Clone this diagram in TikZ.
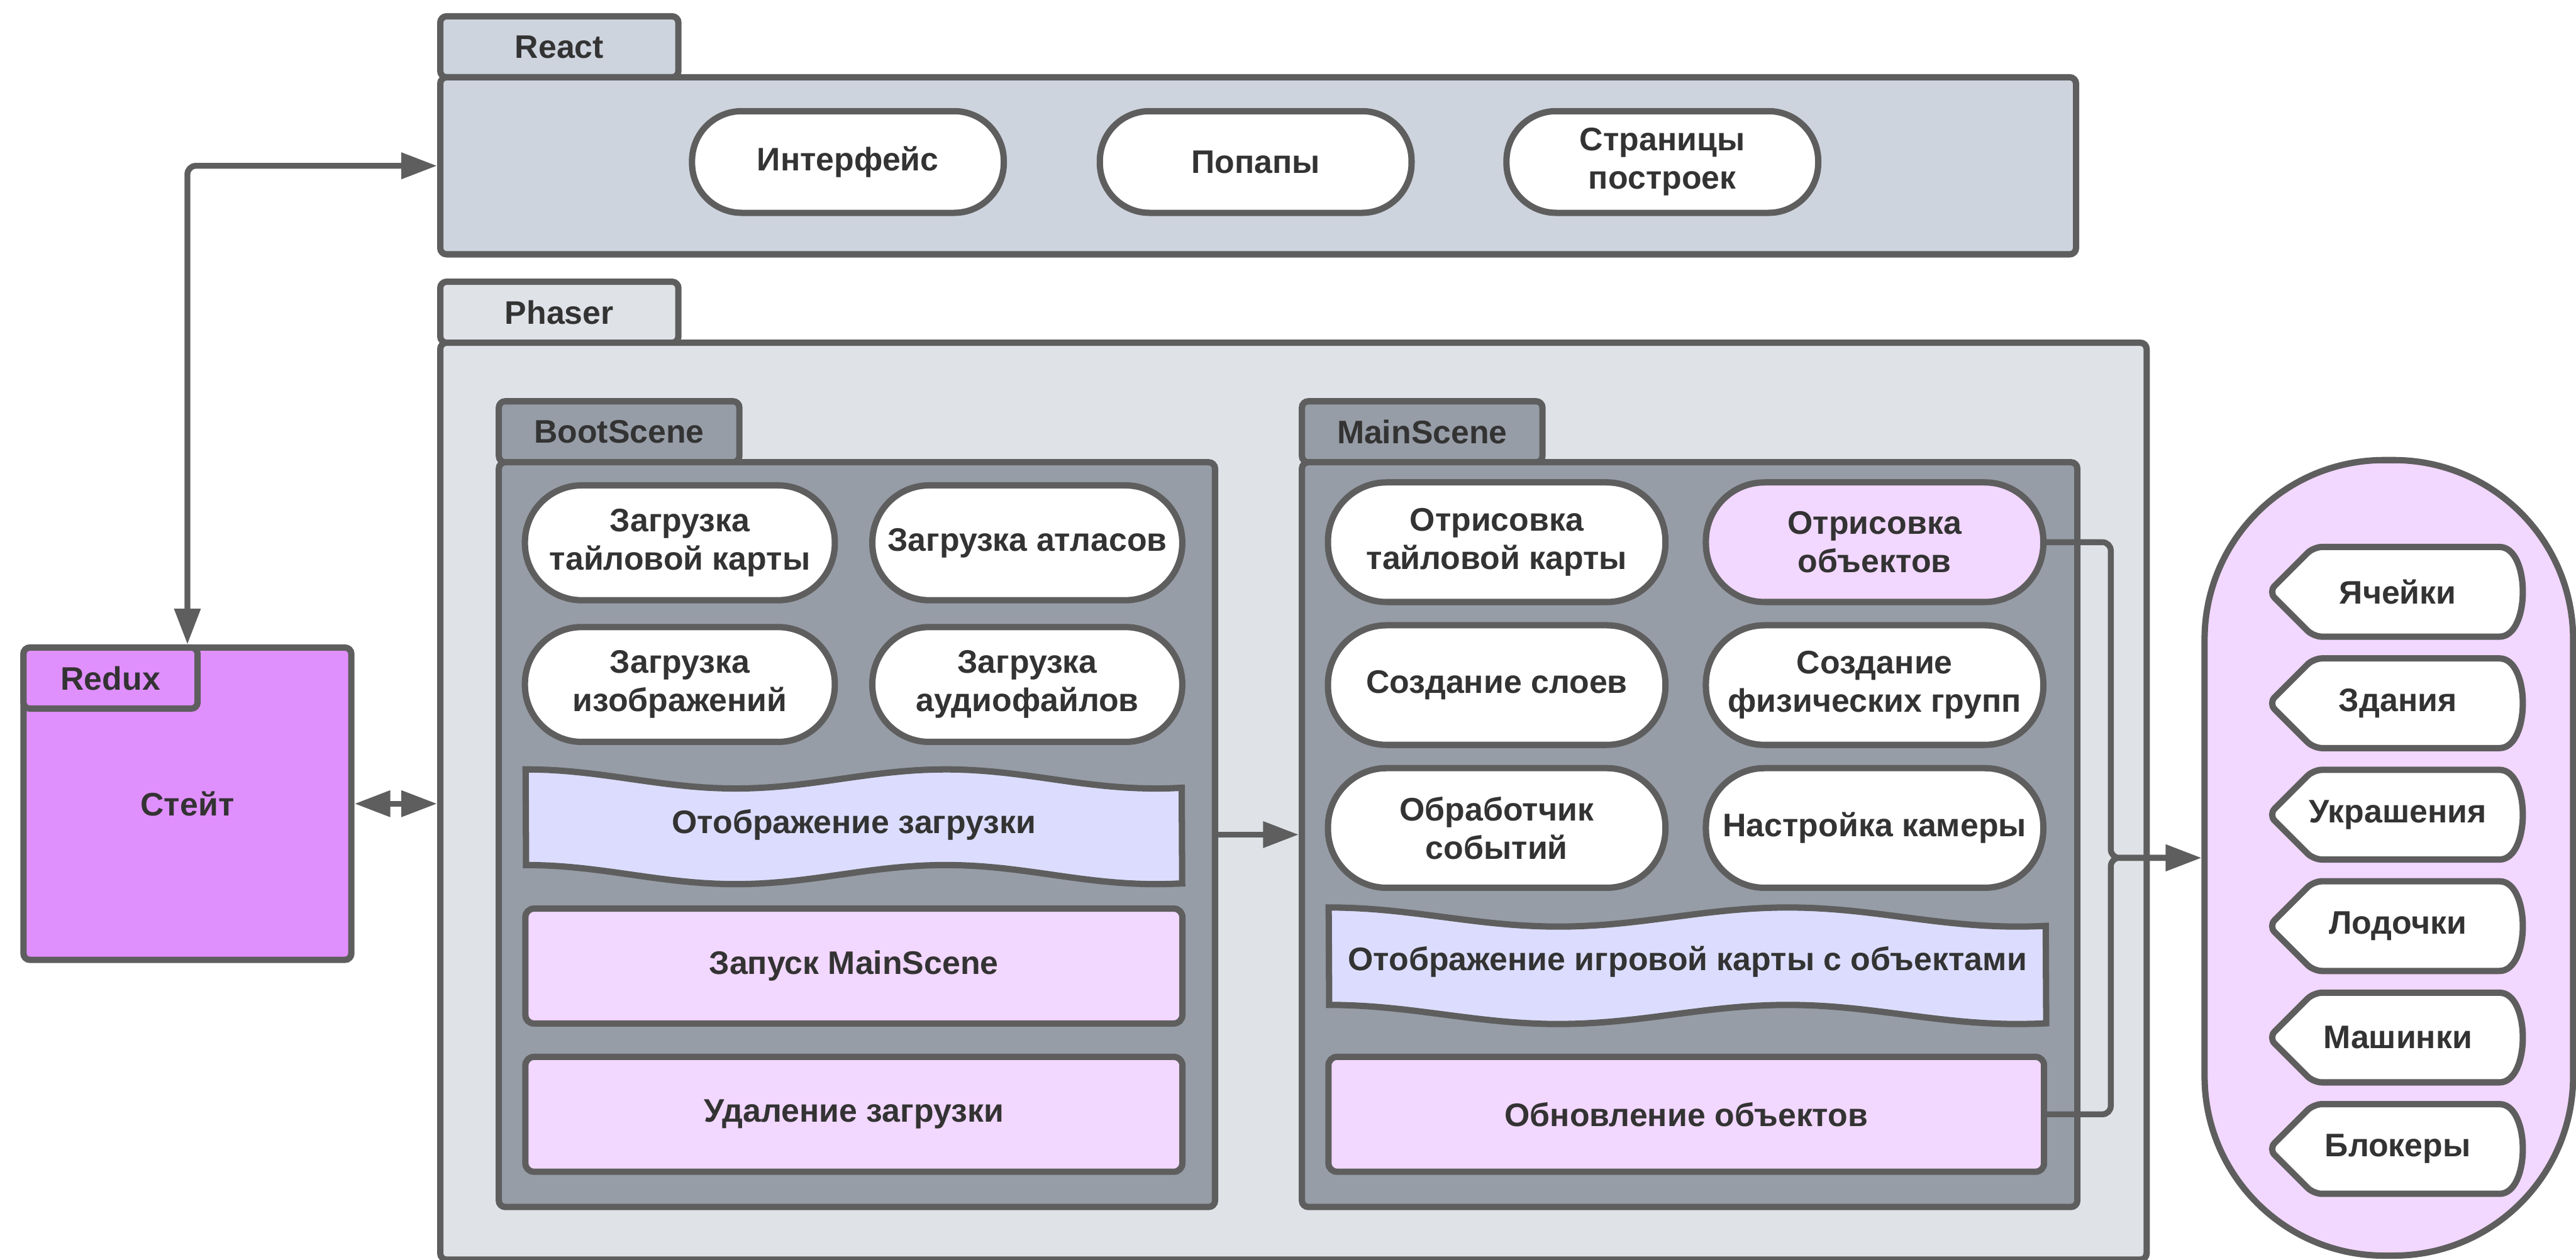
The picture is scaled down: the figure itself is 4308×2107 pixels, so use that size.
\documentclass[tikz,border=0pt]{standalone}
\usepackage{fontspec}
\setmainfont{Liberation Sans}
\usetikzlibrary{arrows.meta}

\definecolor{linegray}{RGB}{94,94,94}
\definecolor{textgray}{RGB}{51,51,51}
\definecolor{reactfill}{RGB}{206,212,222}
\definecolor{phaserfill}{RGB}{223,226,231}
\definecolor{scenefill}{RGB}{151,157,167}
\definecolor{pinkfill}{RGB}{242,215,254}
\definecolor{wavefill}{RGB}{220,221,254}
\definecolor{reduxfill}{RGB}{224,144,253}

\tikzset{
  base/.style={draw=linegray, line width=3pt, text=textgray, align=center, inner sep=0pt,
    font=\fontsize{15.5}{18.3}\selectfont\bfseries},
  panel/.style={base, rounded corners=3pt, anchor=north west},
  pill/.style={base, fill=white, minimum width=5.18cm, minimum height=1.92cm, rounded corners=0.95cm},
  mpill/.style={pill, minimum width=5.64cm, minimum height=2cm, rounded corners=0.98cm},
  bar/.style={base, fill=pinkfill, minimum width=10.98cm, minimum height=1.92cm, rounded corners=4pt},
  tape/.style={draw=linegray, line width=3pt, fill=wavefill},
  label/.style={base, draw=none},
  conn/.style={draw=linegray, line width=2.8pt, rounded corners=4pt},
  >={Triangle[length=17pt,width=12pt]},
}

\begin{document}
\begin{tikzpicture}[x=0.01cm, y=-0.01cm]
  \useasboundingbox (0,0) rectangle (4308,2107);

  % React
  \node[panel, fill=reactfill, minimum width=3.98cm, minimum height=1.02cm] (reacttab) at (731,22) {React};
  \node[panel, fill=reactfill, minimum width=27.34cm, minimum height=2.96cm] (react) at (731,124) {};
  \node[pill, minimum width=5.21cm, minimum height=1.7cm, rounded corners=0.83cm] (ui) at (1418,271) {Интерфейс};
  \node[pill, minimum width=5.21cm, minimum height=1.7cm, rounded corners=0.83cm] (popups) at (2100,271) {Попапы};
  \node[pill, minimum width=5.21cm, minimum height=1.7cm, rounded corners=0.83cm] (pages) at (2780,271) {Страницы\\построек};

  % Phaser
  \node[panel, fill=phaserfill, minimum width=3.98cm, minimum height=1.02cm] (phasertab) at (731,466) {Phaser};
  \node[panel, fill=phaserfill, minimum width=28.52cm, minimum height=15.33cm] (phaser) at (731,568) {};

  % BootScene
  \node[panel, fill=scenefill, minimum width=4.02cm, minimum height=1.02cm] (boottab) at (829,666) {BootScene};
  \node[panel, fill=scenefill, minimum width=11.97cm, minimum height=12.45cm] (boot) at (829,768) {};
  \node[pill] (loadmap) at (1137,908) {Загрузка\\тайловой карты};
  \node[pill] (loadatlas) at (1718,908) {Загрузка атласов};
  \node[pill] (loadimg) at (1137,1145) {Загрузка\\изображений};
  \node[pill] (loadaudio) at (1718,1145) {Загрузка\\аудиофайлов};
  \filldraw[tape] plot[domain=0:1, samples=60] ({879+1098*\x}, {1287+16*(1-cos(562.5*\x))})
    -- plot[domain=1:0, samples=60] ({879+1098*\x}, {1447+16*(1-cos(562.5*\x))}) -- cycle;
  \node[label] (loadview) at (1428,1380) {Отображение загрузки};
  \node[bar] (startmain) at (1428,1616) {Запуск MainScene};
  \node[bar] (removeload) at (1428,1864) {Удаление загрузки};

  % MainScene
  \node[panel, fill=scenefill, minimum width=4.02cm, minimum height=1.02cm] (maintab) at (2172,666) {MainScene};
  \node[panel, fill=scenefill, minimum width=12.96cm, minimum height=12.45cm] (main) at (2172,768) {};
  \node[mpill] (drawmap) at (2503,907) {Отрисовка\\тайловой карты};
  \node[mpill, fill=pinkfill] (drawobj) at (3135,907) {Отрисовка\\объектов};
  \node[mpill] (layers) at (2503,1146) {Создание слоев};
  \node[mpill] (physics) at (3135,1146) {Создание\\физических групп};
  \node[mpill] (events) at (2503,1385) {Обработчик\\событий};
  \node[mpill] (camera) at (3135,1385) {Настройка камеры};
  \filldraw[tape] plot[domain=0:1, samples=60] ({2222+1200*\x}, {1518+16*(1-cos(562.5*\x))})
    -- plot[domain=1:0, samples=60] ({2222+1200*\x}, {1681+16*(1-cos(562.5*\x))}) -- cycle;
  \node[label] (mapview) at (2822,1609) {Отображение игровой карты с объектами};
  \node[bar, minimum width=11.96cm] (update) at (2820,1864) {Обновление объектов};

  % Redux
  \node[panel, fill=reduxfill, minimum width=5.48cm, minimum height=5.22cm] (redux) at (34,1078) {Стейт};
  \node[panel, fill=reduxfill, minimum width=2.91cm, minimum height=1.02cm] (reduxtab) at (34,1078) {Redux};

  % game objects
  \node[base, fill=pinkfill, minimum width=6.16cm, minimum height=13.3cm, rounded corners=3cm] (objects) at (3995,1435) {};
  \foreach \itm/\lbl [count=\i from 0] in {cells/Ячейки, houses/Здания, decor/Украшения,
      boats/Лодочки, cars/Машинки, blockers/Блокеры} {
    \pgfmathsetmacro{\yc}{990+186.4*\i}
    \filldraw[draw=linegray, line width=3pt, fill=white, rounded corners=4pt]
      (3794,\yc) -- (3869,\yc-75) -- (4166,\yc-75)
      .. controls (4232,\yc-75) and (4232,\yc+75) .. (4166,\yc+75) -- (3869,\yc+75) -- cycle;
    \node[label] (\itm) at (4010,\yc) {\lbl};
  }

  % connectors
  \draw[conn, <->] (redux.north) |- (react.west);
  \draw[conn, <->] (redux.east) -- (redux.east -| phaser.west);
  \draw[conn, ->] (boot.east) -- (main.west);
  \coordinate (bus) at (3530,1435);
  \draw[conn, ->] (drawobj.east) -| (bus) -- (objects.west);
  \draw[conn, ->] (update.east) -| (bus) -- (objects.west);
\end{tikzpicture}
\end{document}
